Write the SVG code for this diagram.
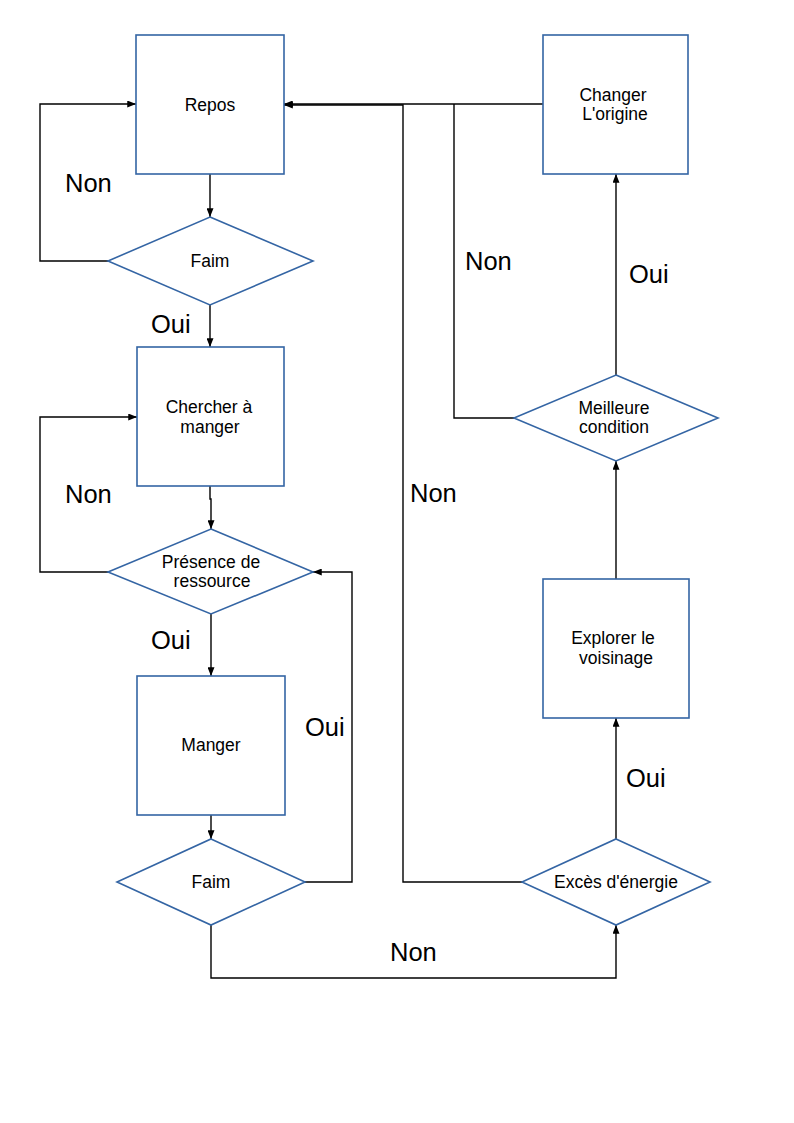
<svg xmlns="http://www.w3.org/2000/svg" width="794" height="1123" viewBox="0 0 794 1123">
<style>
.box{fill:#fff;stroke:#3465a4;stroke-width:1.6}
.t{font-family:"Liberation Sans",Arial,sans-serif;font-size:17.5px;fill:#000;text-anchor:middle}
.lb{font-family:"Liberation Sans",Arial,sans-serif;font-size:25.5px;fill:#000}
.c{fill:none;stroke:#000;stroke-width:1.4}
</style>
<defs>
<marker id="ar" viewBox="0 0 10 8" refX="10" refY="4" markerWidth="9" markerHeight="7" markerUnits="userSpaceOnUse" orient="auto">
<path d="M0,0 L10,4 L0,8 Z" fill="#000"/>
</marker>
</defs>
<rect width="794" height="1123" fill="#fff"/>
<g id="connectors">
<path class="c" d="M210,174 V217" marker-end="url(#ar)"/>
<path class="c" d="M108,261 H40 V104 H136" marker-end="url(#ar)"/>
<path class="c" d="M210,305 V347" marker-end="url(#ar)"/>
<path class="c" d="M210,486 V499 H211 V529" marker-end="url(#ar)"/>
<path class="c" d="M108,572 H40 V417 H137" marker-end="url(#ar)"/>
<path class="c" d="M211,614 V676" marker-end="url(#ar)"/>
<path class="c" d="M211,815 V839" marker-end="url(#ar)"/>
<path class="c" d="M305,882 H352 V572 H313" marker-end="url(#ar)"/>
<path class="c" d="M211,925 V978 H616 V925" marker-end="url(#ar)"/>
<path class="c" d="M522,882 H403 V105 H284" marker-end="url(#ar)"/>
<path class="c" d="M616,839 V718" marker-end="url(#ar)"/>
<path class="c" d="M616,579 V461" marker-end="url(#ar)"/>
<path class="c" d="M514,418 H454 V104"/>
<path class="c" d="M616,375 V174" marker-end="url(#ar)"/>
<path class="c" d="M543,104 H284" marker-end="url(#ar)"/>
</g>
<g id="labels">
<text class="lb" x="65" y="192">Non</text>
<text class="lb" x="151" y="333">Oui</text>
<text class="lb" x="65" y="503">Non</text>
<text class="lb" x="151" y="649">Oui</text>
<text class="lb" x="305" y="736">Oui</text>
<text class="lb" x="390" y="961">Non</text>
<text class="lb" x="410" y="502">Non</text>
<text class="lb" x="465" y="270">Non</text>
<text class="lb" x="629" y="283">Oui</text>
<text class="lb" x="626" y="787">Oui</text>
</g>
<g id="repos">
<rect class="box" x="136" y="35" width="148" height="139"/>
<text class="t" x="210" y="111">Repos</text>
</g>
<g id="faim1">
<polygon class="box" points="210,217 313,261 210,305 108,261"/>
<text class="t" x="210" y="267">Faim</text>
</g>
<g id="chercher">
<rect class="box" x="137" y="347" width="147" height="139"/>
<text class="t" x="209" y="413">Chercher à</text>
<text class="t" x="210" y="433">manger</text>
</g>
<g id="presence">
<polygon class="box" points="211,529 313,572 211,614 108,572"/>
<text class="t" x="211" y="568">Présence de</text>
<text class="t" x="212" y="587">ressource</text>
</g>
<g id="manger">
<rect class="box" x="137" y="676" width="148" height="139"/>
<text class="t" x="211" y="751">Manger</text>
</g>
<g id="faim2">
<polygon class="box" points="211,839 305,882 211,925 117,882"/>
<text class="t" x="211" y="888">Faim</text>
</g>
<g id="exces">
<polygon class="box" points="616,839 710,882 616,925 522,882"/>
<text class="t" x="616" y="888">Excès d'énergie</text>
</g>
<g id="explorer">
<rect class="box" x="543" y="579" width="146" height="139"/>
<text class="t" x="613" y="644">Explorer le</text>
<text class="t" x="616" y="664">voisinage</text>
</g>
<g id="meilleure">
<polygon class="box" points="616,375 718,418 616,461 514,418"/>
<text class="t" x="614" y="414">Meilleure</text>
<text class="t" x="614" y="433">condition</text>
</g>
<g id="changer">
<rect class="box" x="543" y="35" width="145" height="139"/>
<text class="t" x="613" y="101">Changer</text>
<text class="t" x="615" y="120">L'origine</text>
</g>
</svg>
